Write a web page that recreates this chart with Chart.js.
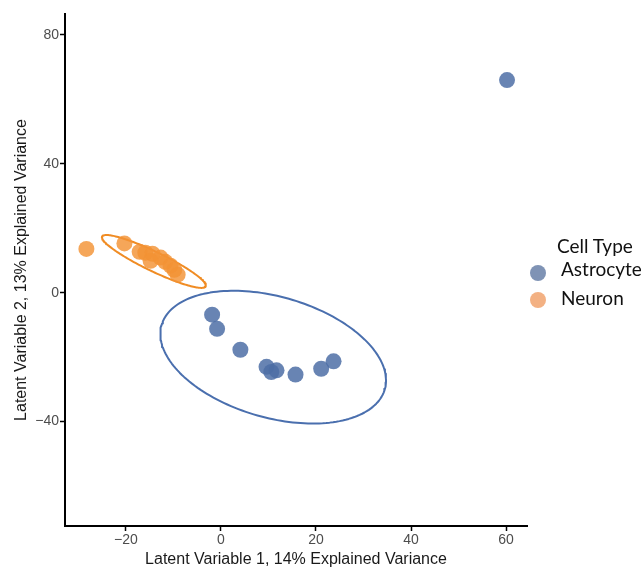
<!DOCTYPE html>
<html><head><meta charset="utf-8">
<script src="https://cdn.jsdelivr.net/npm/chart.js@4/dist/chart.umd.min.js"></script>
<style>
html,body{margin:0;padding:0;background:#fff;overflow:hidden;}
#wrap{position:relative;width:641px;height:569px;}
.leg{position:absolute;font-family:Lato,"Open Sans",sans-serif;color:#111;font-size:19px;line-height:19px;white-space:nowrap;}
.dot{position:absolute;width:16px;height:16px;border-radius:50%;}
</style></head><body>
<div id="wrap"><canvas id="c" width="641" height="569"></canvas>
<div class="leg" style="left:557px;top:236px;">Cell Type</div>
<div class="dot" style="left:530px;top:265px;background:#7f93b5;"></div>
<div class="leg" style="left:561px;top:259px;">Astrocyte</div>
<div class="dot" style="left:530px;top:292px;background:#f3b183;"></div>
<div class="leg" style="left:561px;top:288px;">Neuron</div>
</div>
<script>
// ---- data ----
const seriesNames = ["Astrocyte", "Neuron"];
const astroX = [-1.85, -0.8, 4.1, 9.6, 10.6, 11.7, 15.7, 21.1, 23.7, 60.2];
const astroY = [-6.8, -11.2, -17.7, -23.0, -24.6, -24.1, -25.4, -23.6, -21.3, 66.0];
const neuronX = [-28.3, -20.3, -17.1, -15.9, -14.4, -14.8, -12.7, -11.7, -10.6, -9.8, -9.1];
const neuronY = [13.6, 15.3, 12.7, 12.4, 12.1, 9.9, 10.9, 9.6, 8.4, 7.1, 5.6];
const xTicks = [-20, 0, 20, 40, 60];
const yTicks = [-40, 0, 40, 80];
// ellipse parameters: centre, first and second conjugate semi-axis vectors (data units)
const astroEllipseCenter = [11.0, -20.0];
const astroEllipseU = [23.74, -7.21];
const astroEllipseV = [0, -19.3];
const neuronEllipseCenter = [-14.1, 9.7];
const neuronEllipseU = [10.9, -7.75];
const neuronEllipseV = [-0.9, -2.7];

function toPts(xs, ys) { return xs.map((x, i) => ({x: x, y: ys[i]})); }
function ellipse(c, u, v) {
  const pts = [];
  for (let i = 0; i <= 180; i++) {
    const t = i / 180 * 2 * Math.PI;
    pts.push({x: c[0] + u[0] * Math.cos(t) + v[0] * Math.sin(t),
              y: c[1] + u[1] * Math.cos(t) + v[1] * Math.sin(t)});
  }
  return pts;
}
const astroCol = 'rgba(78,110,166,0.85)';
const neuronCol = 'rgba(243,146,52,0.82)';

new Chart(document.getElementById('c'), {
  type: 'scatter',
  data: {
    datasets: [
      {label: seriesNames[0], data: toPts(astroX, astroY), backgroundColor: astroCol, borderWidth: 0, pointRadius: 8, pointHoverRadius: 8},
      {label: seriesNames[1], data: toPts(neuronX, neuronY), backgroundColor: neuronCol, borderWidth: 0, pointRadius: 8, pointHoverRadius: 8},
      {label: 'ae', data: ellipse(astroEllipseCenter, astroEllipseU, astroEllipseV), showLine: true, pointRadius: 0, borderColor: '#4a6fae', borderWidth: 2, borderJoinStyle: 'round', borderCapStyle: 'round', fill: false, tension: 0},
      {label: 'ne', data: ellipse(neuronEllipseCenter, neuronEllipseU, neuronEllipseV), showLine: true, pointRadius: 0, borderColor: '#f08c24', borderWidth: 2, borderJoinStyle: 'round', borderCapStyle: 'round', fill: false, tension: 0}
    ]
  },
  options: {
    responsive: false,
    animation: false,
    layout: {padding: {left: 0, top: 14, right: 114, bottom: 0}},
    plugins: {legend: {display: false}, tooltip: {enabled: false}},
    scales: {
      x: {
        type: 'linear', min: -32.8, max: 64.4,
        afterBuildTicks: s => { s.ticks = xTicks.map(v => ({value: v})); },
        afterFit: s => { s.height = 43; },
        grid: {drawOnChartArea: false, drawTicks: true, tickLength: 5, tickColor: '#000', tickWidth: 1.5},
        border: {display: true, color: '#000', width: 2},
        ticks: {color: '#4d4d4d', font: {family: 'Liberation Sans, Arial, sans-serif', size: 14}, padding: 1, maxRotation: 0,
                callback: v => (v < 0 ? '\u2212' + Math.abs(v) : String(v))},
        title: {display: true, text: 'Latent Variable 1, 14% Explained Variance', color: '#1a1a1a',
                font: {family: 'Liberation Sans, Arial, sans-serif', size: 16}, padding: {top: 0, bottom: 0}}
      },
      y: {
        type: 'linear', min: -72.4, max: 86.5,
        afterBuildTicks: s => { s.ticks = yTicks.map(v => ({value: v})); },
        afterFit: s => { s.width = 65; },
        grid: {drawOnChartArea: false, drawTicks: true, tickLength: 5, tickColor: '#000', tickWidth: 1.5},
        border: {display: true, color: '#000', width: 2},
        ticks: {color: '#4d4d4d', font: {family: 'Liberation Sans, Arial, sans-serif', size: 14}, padding: 1,
                callback: v => (v < 0 ? '\u2212' + Math.abs(v) : String(v))},
        title: {display: true, text: 'Latent Variable 2, 13% Explained Variance', color: '#1a1a1a',
                font: {family: 'Liberation Sans, Arial, sans-serif', size: 16}, padding: {top: 12, bottom: 0}}
      }
    }
  }
});
</script>
</body></html>
